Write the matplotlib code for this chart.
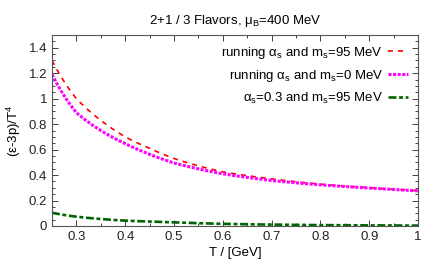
import matplotlib
matplotlib.use("Agg")
import matplotlib.pyplot as plt
from matplotlib.ticker import MultipleLocator
import numpy as np

plt.rcParams['font.family'] = ['Liberation Sans', 'DejaVu Sans']
plt.rcParams['mathtext.fontset'] = 'custom'
plt.rcParams['mathtext.rm'] = 'Liberation Sans'
plt.rcParams['mathtext.it'] = 'Liberation Sans'
plt.rcParams['mathtext.default'] = 'regular'

T = [0.25, 0.3, 0.35, 0.4, 0.45, 0.5, 0.6, 0.7, 0.8, 0.9, 1.0]
red = [1.30, 1.00, 0.83, 0.70, 0.61, 0.53, 0.425, 0.37, 0.328, 0.30, 0.278]
magenta = [1.19, 0.89, 0.75, 0.647, 0.563, 0.495, 0.41, 0.357, 0.323, 0.298, 0.276]
green = [0.104, 0.073, 0.055, 0.042, 0.035, 0.029, 0.017, 0.011, 0.007, 0.005, 0.003]

labels = [r'running $\alpha_s$ and m$_s$=95 MeV',
          r'running $\alpha_s$ and m$_s$=0 MeV',
          r'$\alpha_s$=0.3 and m$_s$=95 MeV']

# smooth interpolation for drawing
Tf = np.linspace(0.25, 1.0, 200)
def smooth(y):
    ly = np.log(np.array(y))
    return np.exp(np.interp(np.log(Tf), np.log(T), ly))

fig = plt.figure(figsize=(4.36, 2.62), dpi=100)
ax = fig.add_axes([52/436, 1 - 226/262, (418-52)/436, (226-35)/262])

ax.plot(Tf, smooth(red), color='#ff0000', lw=1.2, ls=(0, (3, 3)), label=labels[0])
ax.plot(Tf, smooth(magenta), color='#ff00ff', lw=2.2, ls=(0, (1, 0.5)), label=labels[1])
ax.plot(Tf, smooth(green), color='#006400', lw=1.9, ls=(0, (3, 1, 1.5, 1)), label=labels[2])

ax.set_xlim(0.25, 1.0)
ax.set_ylim(0, 1.5)
ax.xaxis.set_major_locator(MultipleLocator(0.1))
ax.xaxis.set_minor_locator(MultipleLocator(0.05))
ax.yaxis.set_major_locator(MultipleLocator(0.2))
ax.yaxis.set_minor_locator(MultipleLocator(0.05))
ax.set_xticks([0.3, 0.4, 0.5, 0.6, 0.7, 0.8, 0.9, 1.0])
ax.set_xticklabels(['0.3', '0.4', '0.5', '0.6', '0.7', '0.8', '0.9', '1'])
ax.set_yticks([0, 0.2, 0.4, 0.6, 0.8, 1.0, 1.2, 1.4])
ax.set_yticklabels(['0', '0.2', '0.4', '0.6', '0.8', '1', '1.2', '1.4'])
ax.tick_params(which='both', direction='in', top=True, right=True, labelsize=9.5, colors='#222222')
ax.tick_params(which='major', length=4.5, width=0.6)
ax.tick_params(which='minor', length=2.5, width=0.6)
for s in ax.spines.values():
    s.set_color('#555555')
    s.set_linewidth(0.8)

ax.set_xlabel('T / [GeV]', fontsize=9.5, labelpad=3)
ax.set_ylabel(r'(ε-3p)/T$^4$', fontsize=9.5, labelpad=4)
ax.set_title(r'2+1 / 3 Flavors, $\mu_B$=400 MeV', fontsize=9.5, pad=8)

leg = ax.legend(loc='upper right', frameon=False, markerfirst=False, fontsize=9.5,
                handlelength=1.5, handletextpad=0.4, labelspacing=0.52,
                borderaxespad=0.35)

fig.savefig('out.png', dpi=100)
